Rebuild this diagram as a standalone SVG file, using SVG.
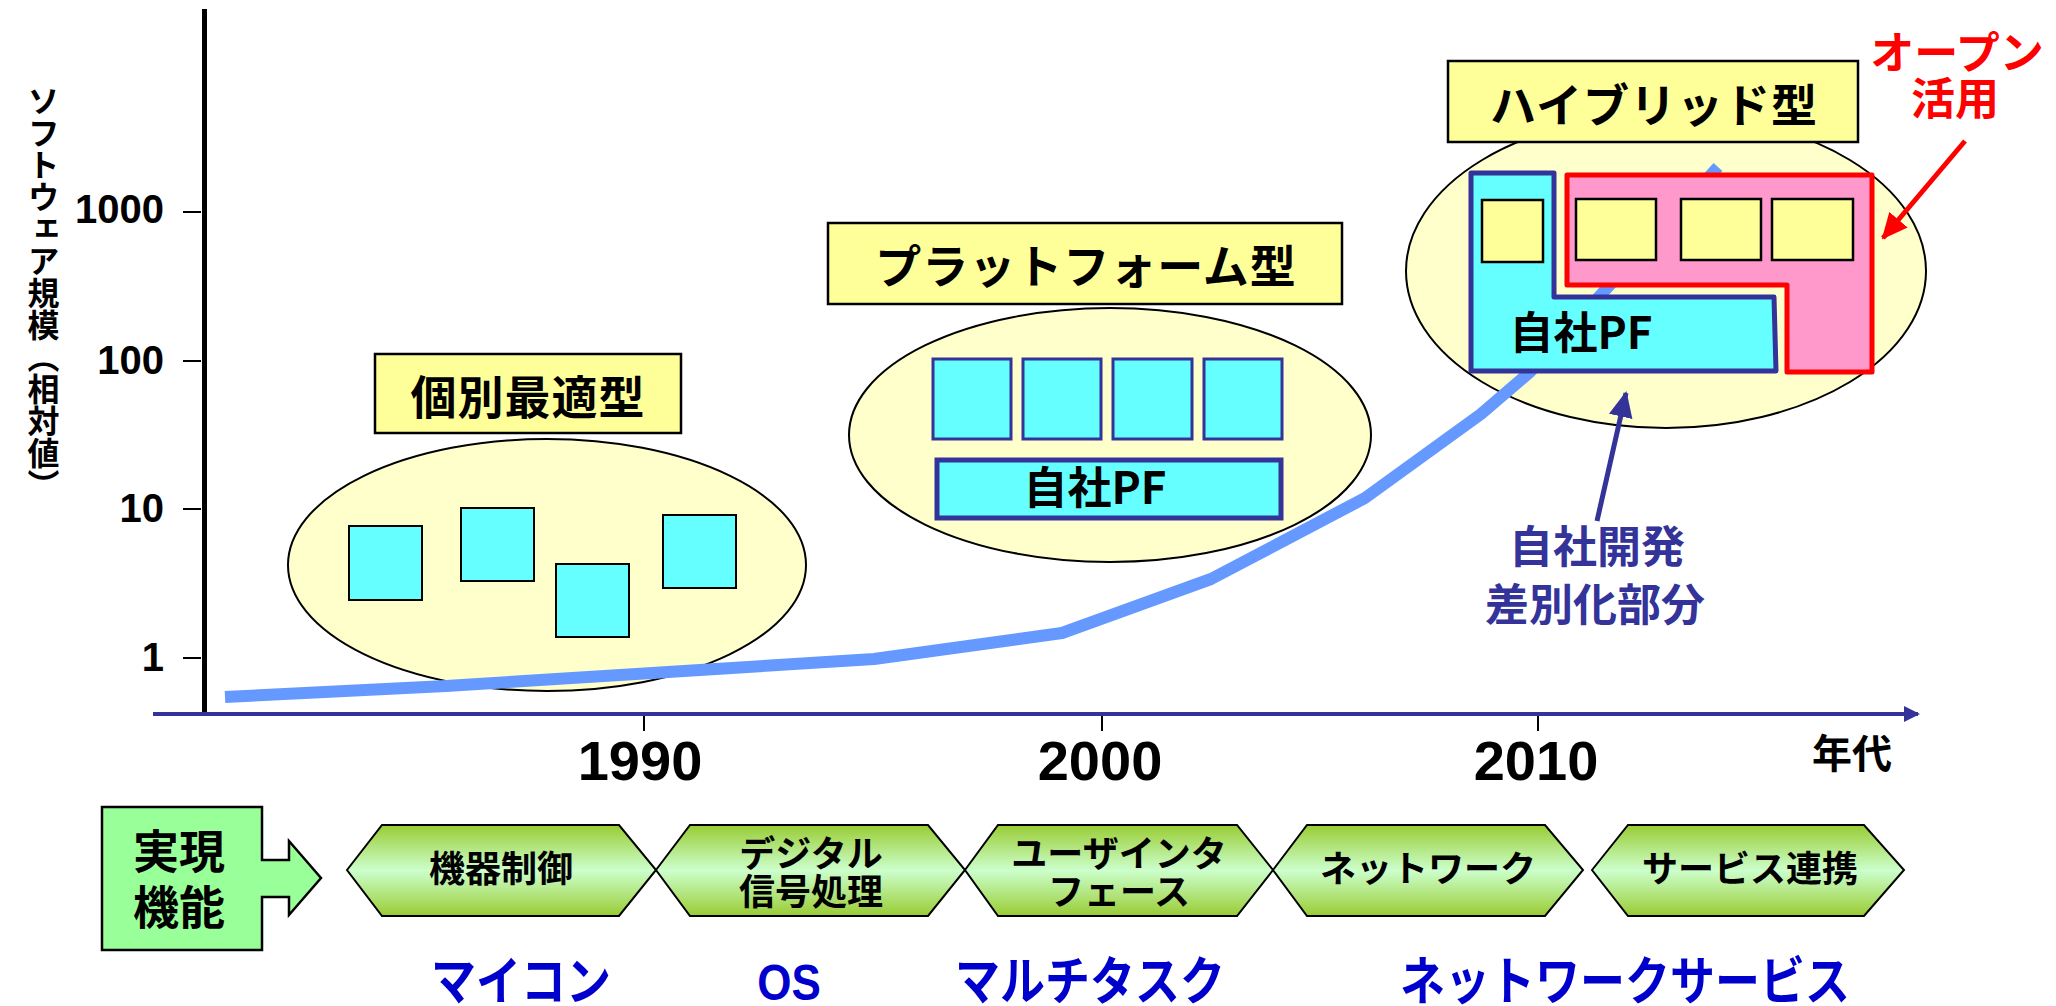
<svg xmlns="http://www.w3.org/2000/svg" width="2056" height="1006" viewBox="0 0 2056 1006">
<style>
.jp{font-family:"Noto Sans CJK JP","Noto Sans CJK SC",sans-serif;font-weight:bold}
.num{font-family:"Liberation Sans",Arial,sans-serif;font-weight:bold}
.ell{fill:#FFFFCC;stroke:#000;stroke-width:2}
.ybox{fill:#FFFF99;stroke:#000;stroke-width:2.5}
.cb{fill:#66FFFF;stroke:#000;stroke-width:2}
.cbb{fill:#66FFFF;stroke:#333399;stroke-width:3}
.hex{fill:url(#hg);stroke:#000;stroke-width:2}
.lbl{font-size:46px;letter-spacing:1px}
.hx{font-size:36px}
.blu{fill:#0000CC;font-size:45px}
</style>
<defs>
<linearGradient id="hg" x1="0" y1="0" x2="0" y2="1">
<stop offset="0" stop-color="#99CC33"/>
<stop offset="0.5" stop-color="#CCFFCC"/>
<stop offset="1" stop-color="#99CC33"/>
</linearGradient>
<marker id="ab" markerUnits="userSpaceOnUse" markerWidth="26" markerHeight="24" refX="24" refY="12" orient="auto">
<path d="M0,0 L26,12 L0,24 z" fill="#333399"/>
</marker>
<marker id="ar" markerUnits="userSpaceOnUse" markerWidth="26" markerHeight="24" refX="24" refY="12" orient="auto">
<path d="M0,0 L26,12 L0,24 z" fill="#FF0000"/>
</marker>
<marker id="ax" markerUnits="userSpaceOnUse" markerWidth="16" markerHeight="16" refX="14" refY="8" orient="auto">
<path d="M0,0 L16,8 L0,16 z" fill="#333399"/>
</marker>
</defs>

<g id="axes">
<line x1="204.5" y1="9" x2="204.5" y2="716" stroke="#000" stroke-width="5"/>
<g stroke="#000" stroke-width="2">
<line x1="183" y1="212" x2="201" y2="212"/>
<line x1="183" y1="361" x2="201" y2="361"/>
<line x1="183" y1="509" x2="201" y2="509"/>
<line x1="183" y1="658" x2="201" y2="658"/>
<line x1="644" y1="715" x2="644" y2="731"/>
<line x1="1102" y1="715" x2="1102" y2="731"/>
<line x1="1538" y1="715" x2="1538" y2="731"/>
</g>
<line x1="153" y1="714" x2="1918" y2="714" stroke="#333399" stroke-width="4" marker-end="url(#ax)"/>
<g class="num" font-size="40" text-anchor="end">
<text x="164" y="223">1000</text>
<text x="164" y="374">100</text>
<text x="164" y="522">10</text>
<text x="164" y="671">1</text>
</g>
<g class="num" font-size="56" text-anchor="middle">
<text x="640" y="780">1990</text>
<text x="1100" y="780">2000</text>
<text x="1536" y="780">2010</text>
</g>
<text class="jp" x="1852" y="768" font-size="40" text-anchor="middle">年代</text>
<text class="jp" x="43.5" y="85" font-size="32" writing-mode="vertical-rl" style="writing-mode:vertical-rl">ソフトウェア規模︵相対値︶</text>
</g>

<g id="ellipses">
<ellipse class="ell" cx="547" cy="565" rx="259" ry="126"/>
<ellipse class="ell" cx="1110" cy="435" rx="261" ry="127"/>
<ellipse class="ell" cx="1666" cy="271" rx="260" ry="157"/>
</g>

<g id="curve">
<polyline points="225,697 446,686 700,670 874,659 1062,633 1211,579 1365,498 1481,414 1530,372 1718,167" fill="none" stroke="#6699FF" stroke-width="12" stroke-linejoin="round"/>
</g>

<g id="individual">
<rect class="cb" x="349" y="526" width="73" height="74"/>
<rect class="cb" x="461" y="508" width="73" height="73"/>
<rect class="cb" x="556" y="564" width="73" height="73"/>
<rect class="cb" x="663" y="515" width="73" height="73"/>
</g>

<g id="platform">
<rect class="cbb" x="933" y="359" width="78" height="80"/>
<rect class="cbb" x="1023" y="359" width="78" height="80"/>
<rect class="cbb" x="1113" y="359" width="79" height="80"/>
<rect class="cbb" x="1204" y="359" width="78" height="80"/>
<rect x="937" y="460" width="344" height="58" fill="#66FFFF" stroke="#333399" stroke-width="5"/>
<text class="jp" x="1095" y="504" font-size="44" text-anchor="middle">自社PF</text>
</g>

<g id="hybrid">
<polygon points="1471,173 1554,173 1554,297 1774,297 1776,371 1471,371" fill="#66FFFF" stroke="#333399" stroke-width="5" stroke-linejoin="round"/>
<polygon points="1567,175 1872,175 1872,372 1787,372 1787,285 1567,285" fill="#FF99CC" stroke="#FF0000" stroke-width="5" stroke-linejoin="round"/>
<rect class="ybox" x="1482" y="200" width="61" height="62"/>
<rect class="ybox" x="1576" y="199" width="80" height="61"/>
<rect class="ybox" x="1681" y="199" width="80" height="61"/>
<rect class="ybox" x="1772" y="199" width="81" height="61"/>
<text class="jp" x="1581" y="349" font-size="44" text-anchor="middle">自社PF</text>
</g>

<g id="label-individual">
<rect class="ybox" x="375" y="354" width="306" height="79"/>
<text class="jp lbl" x="528" y="414" text-anchor="middle">個別最適型</text>
</g>
<g id="label-platform">
<rect class="ybox" x="828" y="223" width="514" height="81"/>
<text class="jp lbl" x="1086" y="283" text-anchor="middle">プラットフォーム型</text>
</g>
<g id="label-hybrid">
<rect class="ybox" x="1448" y="61" width="410" height="81"/>
<text class="jp lbl" x="1654" y="122" text-anchor="middle">ハイブリッド型</text>
</g>

<g id="note-open" fill="#FF0000">
<text class="jp" x="1957" y="69" font-size="44" text-anchor="middle">オープン</text>
<text class="jp" x="1955" y="115" font-size="44" text-anchor="middle">活用</text>
</g>
<g id="note-own" fill="#333399">
<text class="jp" x="1597" y="563" font-size="44" text-anchor="middle">自社開発</text>
<text class="jp" x="1595" y="621" font-size="44" text-anchor="middle">差別化部分</text>
</g>

<g id="connectors">
<line x1="1965" y1="141" x2="1883" y2="238" stroke="#FF0000" stroke-width="5" marker-end="url(#ar)"/>
<line x1="1597" y1="521" x2="1626" y2="393" stroke="#333399" stroke-width="5" marker-end="url(#ab)"/>
</g>

<g id="realized">
<polygon points="102,807 262,807 262,860 289,860 289,841 321,878 289,915 289,897 262,897 262,950 102,950" fill="#99FF99" stroke="#000" stroke-width="2.5"/>
<text class="jp" x="179" y="868" font-size="46" text-anchor="middle">実現</text>
<text class="jp" x="179" y="924" font-size="46" text-anchor="middle">機能</text>
</g>

<g id="hex1">
<polygon class="hex" points="347,870 382,825 619,825 656,870 619,916 382,916"/>
<text class="jp hx" x="501" y="882" text-anchor="middle">機器制御</text>
</g>
<g id="hex2">
<polygon class="hex" points="656,870 690,825 928,825 965,870 928,916 690,916"/>
<text class="jp hx" x="811" y="867" text-anchor="middle">デジタル</text>
<text class="jp hx" x="811" y="905" text-anchor="middle">信号処理</text>
</g>
<g id="hex3">
<polygon class="hex" points="965,870 998,825 1237,825 1273,870 1237,916 998,916"/>
<text class="jp hx" x="1119" y="867" text-anchor="middle">ユーザインタ</text>
<text class="jp hx" x="1119" y="905" text-anchor="middle">フェース</text>
</g>
<g id="hex4">
<polygon class="hex" points="1273,870 1307,825 1545,825 1583,870 1545,916 1307,916"/>
<text class="jp hx" x="1428" y="882" text-anchor="middle">ネットワーク</text>
</g>
<g id="hex5">
<polygon class="hex" points="1592,870 1628,825 1864,825 1904,870 1864,916 1628,916"/>
<text class="jp hx" x="1750" y="882" text-anchor="middle">サービス連携</text>
</g>

<g id="tech">
<text class="jp blu" transform="translate(521,1000) scale(1,1.15)" text-anchor="middle">マイコン</text>
<text class="num" transform="translate(789,1000) scale(1,1.15)" font-size="44" fill="#0000CC" text-anchor="middle">OS</text>
<text class="jp blu" transform="translate(1090,1000) scale(1,1.15)" text-anchor="middle">マルチタスク</text>
<text class="jp blu" transform="translate(1625,1000) scale(1,1.15)" text-anchor="middle">ネットワークサービス</text>
</g>
</svg>
